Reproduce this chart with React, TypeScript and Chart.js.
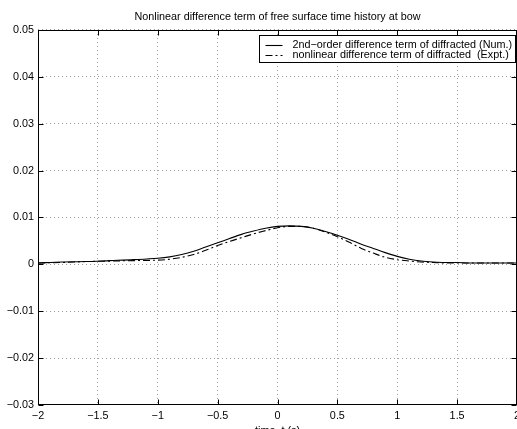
import React, { useEffect, useRef } from 'react';
import { Chart, registerables } from 'chart.js';

Chart.register(...registerables);

const chartTitle = 'Nonlinear difference term of free surface time history at bow';
const xAxisLabel = 'time, t (s)';
const seriesLabels = [
  '2nd\u2212order difference term of diffracted (Num.)',
  'nonlinear difference term of diffracted  (Expt.)',
];

const timeValues = [
  -2.0, -1.8, -1.6, -1.4, -1.2, -1.0, -0.9, -0.8, -0.7, -0.6, -0.5, -0.4, -0.3, -0.2, -0.1,
  0.0, 0.1, 0.2, 0.3, 0.4, 0.5, 0.6, 0.7, 0.8, 0.9, 1.0, 1.1, 1.2, 1.3, 1.4, 1.5, 1.6, 1.8, 2.0,
];
const numValues = [
  0.0003, 0.0005, 0.0006, 0.0008, 0.0010, 0.0013, 0.0016, 0.0021, 0.0028, 0.0037, 0.0046, 0.0055, 0.0064, 0.0071, 0.0077,
  0.0081, 0.0082, 0.0081, 0.0077, 0.0070, 0.0062, 0.0053, 0.0043, 0.0034, 0.0025, 0.0017, 0.0011, 0.0007, 0.0005, 0.0004, 0.0004, 0.0003, 0.0003, 0.0003,
];
const exptValues = [
  0.0003, 0.0004, 0.0006, 0.0007, 0.0008, 0.0009, 0.0011, 0.0015, 0.0021, 0.0030, 0.0040, 0.0049, 0.0057, 0.0065, 0.0072,
  0.0078, 0.0081, 0.0081, 0.0077, 0.0069, 0.0059, 0.0047, 0.0034, 0.0024, 0.0015, 0.0010, 0.0007, 0.0005, 0.0004, 0.0003, 0.0003, 0.0003, 0.0003, 0.0003,
];
const xTicks = [-2, -1.5, -1, -0.5, 0, 0.5, 1, 1.5, 2];
const yTicks = [-0.03, -0.02, -0.01, 0, 0.01, 0.02, 0.03, 0.04, 0.05];

const FONT = '"Liberation Sans", Arial, Helvetica, sans-serif';
const FS = 10.8;
const GRID = 'rgba(0,0,0,0.38)';

const fmt = (v: number) => {
  const r = Math.round(v * 1000) / 1000;
  if (r === 0) return '0';
  return r < 0 ? '\u2212' + String(-r) : String(r);
};

const framePlugin = {
  id: 'matlabFrame',
  afterDraw(chart: any) {
    const { ctx, chartArea: a, scales } = chart;
    ctx.save();
    ctx.strokeStyle = '#000';
    ctx.lineWidth = 1;
    ctx.setLineDash([]);
    const L = Math.round(a.left) + 0.5;
    const R = Math.round(a.right) - 0.5;
    const T = Math.round(a.top) + 0.5;
    const B = Math.round(a.bottom) - 0.5;
    ctx.strokeRect(L, T, R - L, B - T);
    const tl = 5;
    ctx.beginPath();
    xTicks.forEach((v) => {
      const px = Math.round(scales.x.getPixelForValue(v)) + 0.5;
      ctx.moveTo(px, B);
      ctx.lineTo(px, B - tl);
      ctx.moveTo(px, T);
      ctx.lineTo(px, T + tl);
    });
    yTicks.forEach((v) => {
      const py = Math.round(scales.y.getPixelForValue(v)) + 0.5;
      ctx.moveTo(L, py);
      ctx.lineTo(L + tl, py);
      ctx.moveTo(R, py);
      ctx.lineTo(R - tl, py);
    });
    ctx.stroke();

    // legend
    ctx.font = `${FS}px ${FONT}`;
    const ds = chart.data.datasets;
    const widths = ds.map((d: any) => ctx.measureText(d.label).width);
    const textW = Math.max(...widths);
    const boxW = Math.round(33 + textW + 3);
    const boxH = 27;
    const bx = Math.round(a.right) - 2 - boxW + 0.5;
    const by = Math.round(a.top) + 5 + 0.5;
    ctx.fillStyle = '#fff';
    ctx.fillRect(bx, by, boxW, boxH);
    ctx.strokeStyle = '#000';
    ctx.lineWidth = 1;
    ctx.strokeRect(bx, by, boxW, boxH);
    ds.forEach((d: any, i: number) => {
      const cy = Math.round(by + 9 + i * 10) + 0.5;
      ctx.save();
      ctx.strokeStyle = d.borderColor;
      ctx.lineWidth = d.borderWidth;
      ctx.setLineDash(d.borderDash || []);
      ctx.beginPath();
      ctx.moveTo(bx + 6, cy);
      ctx.lineTo(bx + 23, cy);
      ctx.stroke();
      ctx.restore();
      ctx.fillStyle = '#000';
      ctx.textAlign = 'left';
      ctx.textBaseline = 'middle';
      ctx.fillText(d.label, bx + 33, cy);
    });
    ctx.restore();
  },
};

export default function App() {
  const ref = useRef<HTMLCanvasElement | null>(null);

  useEffect(() => {
    const canvas = ref.current;
    if (!canvas) return;
    Chart.defaults.font.family = FONT;
    Chart.defaults.font.size = FS;
    Chart.defaults.color = '#000';
    const chart = new Chart(canvas, {
      type: 'line',
      data: {
        datasets: [
          {
            label: seriesLabels[0],
            data: timeValues.map((t, i) => ({ x: t, y: numValues[i] })),
            borderColor: '#000',
            borderWidth: 1.1,
            pointRadius: 0,
            fill: false,
            cubicInterpolationMode: 'monotone',
          },
          {
            label: seriesLabels[1],
            data: timeValues.map((t, i) => ({ x: t, y: exptValues[i] })),
            borderColor: '#000',
            borderWidth: 1.1,
            borderDash: [7, 3, 2, 3],
            pointRadius: 0,
            fill: false,
            cubicInterpolationMode: 'monotone',
          },
        ],
      },
      options: {
        animation: false,
        responsive: false,
        maintainAspectRatio: false,
        devicePixelRatio: 1,
        layout: { padding: 0 },
        plugins: {
          legend: { display: false },
          tooltip: { enabled: false },
          title: {
            display: true,
            text: chartTitle,
            fullSize: false,
            color: '#000',
            font: { size: FS, weight: 'normal', family: FONT, lineHeight: 1.2 },
            padding: { top: 10.5, bottom: 6.5 },
          },
        },
        scales: {
          x: {
            type: 'linear',
            min: -2,
            max: 2,
            afterBuildTicks: (s: any) => {
              s.ticks = xTicks.map((v) => ({ value: v }));
            },
            afterFit: (s: any) => {
              s.height = 35;
              s.paddingLeft = 0;
              s.paddingRight = 0;
            },
            ticks: {
              autoSkip: false,
              maxRotation: 0,
              padding: 5,
              color: '#000',
              font: { size: FS, family: FONT },
              callback: (v: any) => fmt(Number(v)),
            },
            grid: {
              color: GRID,
              lineWidth: 1,
              drawTicks: false,
            },
            border: { display: false, dash: [1, 3] },
            title: {
              display: true,
              text: xAxisLabel,
              color: '#000',
              font: { size: FS, family: FONT, lineHeight: 1.2 },
              padding: { top: 0, bottom: 2 },
            },
          },
          y: {
            type: 'linear',
            min: -0.03,
            max: 0.05,
            afterBuildTicks: (s: any) => {
              s.ticks = yTicks.map((v) => ({ value: v }));
            },
            afterFit: (s: any) => {
              s.width = 38;
              s.paddingTop = 0;
              s.paddingBottom = 0;
            },
            ticks: {
              autoSkip: false,
              padding: 4,
              color: '#000',
              font: { size: FS, family: FONT },
              callback: (v: any) => fmt(Number(v)),
            },
            grid: {
              color: GRID,
              lineWidth: 1,
              drawTicks: false,
            },
            border: { display: false, dash: [1, 3] },
          },
        },
      },
      plugins: [framePlugin],
    } as any);
    return () => chart.destroy();
  }, []);

  return (
    <div
      style={{
        position: 'fixed',
        left: 0,
        top: 0,
        width: 517,
        height: 429,
        overflow: 'hidden',
        background: '#fff',
      }}
    >
      <canvas ref={ref} width={517} height={440} style={{ width: 517, height: 440, display: 'block' }} />
    </div>
  );
}
